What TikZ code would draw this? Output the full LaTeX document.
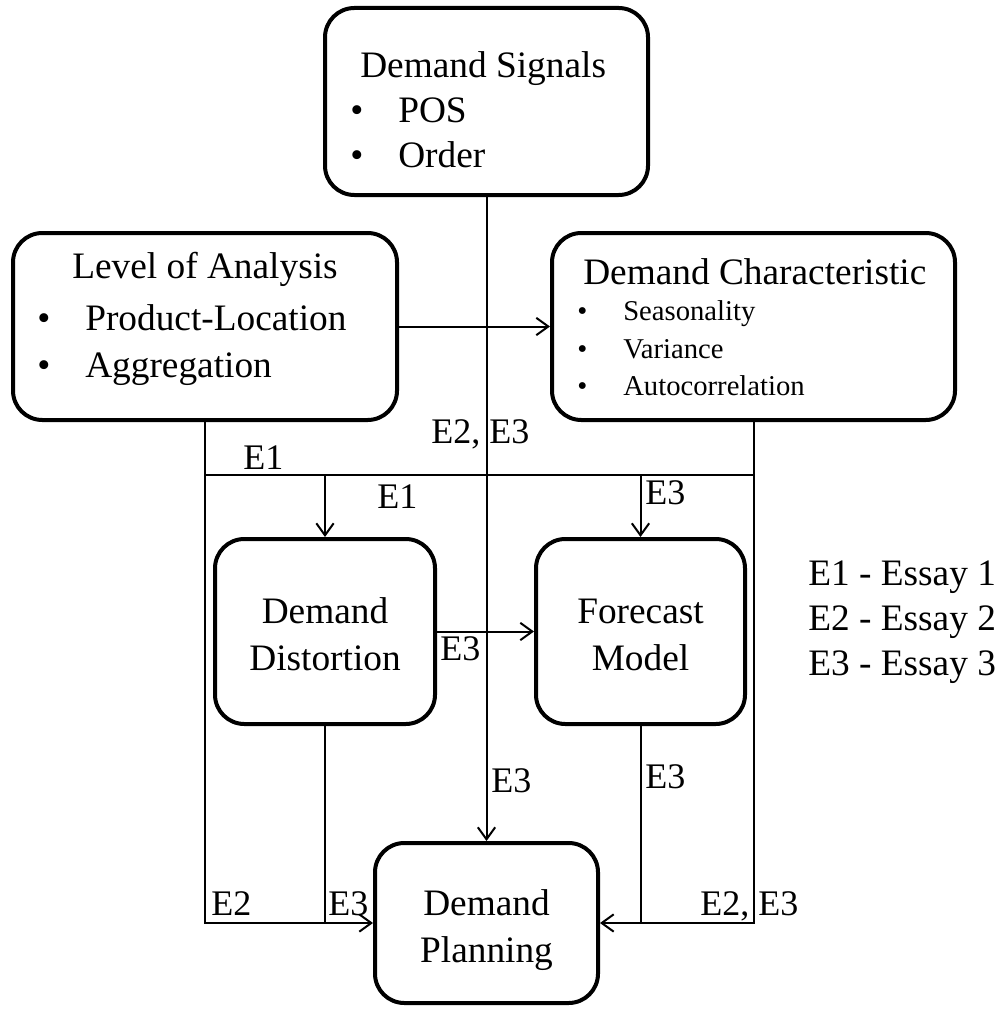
\documentclass[tikz,border=0pt]{standalone}
\usepackage{fontspec}
\setmainfont{Liberation Serif}
\usetikzlibrary{arrows.meta}
\begin{document}
\begin{tikzpicture}[x=0.75pt,y=-0.75pt,
  box/.style={draw, line width=3pt, rounded corners=22pt, inner sep=0pt},
  big/.style={font=\fontsize{28}{34}\selectfont, inner sep=0pt},
  small/.style={font=\fontsize{21.5}{26}\selectfont, inner sep=0pt},
  lab/.style={font=\fontsize{27}{32}\selectfont, inner sep=0pt, anchor=base west},
  conn/.style={line width=1.5pt},
  arr/.style={conn, -{Straight Barb[length=9pt,width=13pt]}}]
\useasboundingbox (0,0) rectangle (1002,1013);
% boxes
\node[box, minimum width=242.25pt, minimum height=140.25pt] (sig) at (486.5,101.5) {};
\node[box, minimum width=288pt, minimum height=140.25pt] (lev) at (205,326.5) {};
\node[box, minimum width=302.25pt, minimum height=140.25pt] (chr) at (753.5,326.5) {};
\node[box, minimum width=165pt, minimum height=138.75pt] (dis) at (325,631.5) {};
\node[box, minimum width=156.75pt, minimum height=138.75pt] (fmod) at (640.5,631.5) {};
\node[box, minimum width=167.25pt, minimum height=120pt] (plan) at (486.5,923) {};
% box texts
\node[big, anchor=base west] (sigT) at (360,78) {Demand Signals};
\node[big, anchor=base west] (sigB1) at (350,123) {•};
\node[big, anchor=base west] (sigI1) at (398,123) {POS};
\node[big, anchor=base west] (sigB2) at (350,167) {•};
\node[big, anchor=base west] (sigI2) at (398,167) {Order};
\node[big, anchor=base west] (levT) at (72,278) {Level of Analysis};
\node[big, anchor=base west] (levB1) at (37,330) {•};
\node[big, anchor=base west] (levI1) at (85,330) {Product-Location};
\node[big, anchor=base west] (levB2) at (37,377) {•};
\node[big, anchor=base west] (levI2) at (85,377) {Aggregation};
\node[big, anchor=base west] (chrT) at (583,284) {Demand Characteristic};
\node[small, anchor=base west] (chrB1) at (577,320.5) {•};
\node[small, anchor=base west] (chrI1) at (623,320.5) {Seasonality};
\node[small, anchor=base west] (chrB2) at (577,358.5) {•};
\node[small, anchor=base west] (chrI2) at (623,358.5) {Variance};
\node[small, anchor=base west] (chrB3) at (577,395) {•};
\node[small, anchor=base west] (chrI3) at (623,395) {Autocorrelation};
\node[big, anchor=base] (disT1) at (325,623) {Demand};
\node[big, anchor=base] (disT2) at (325,670) {Distortion};
\node[big, anchor=base] (fmT1) at (640.5,623) {Forecast};
\node[big, anchor=base] (fmT2) at (640.5,670) {Model};
\node[big, anchor=base] (plT1) at (486.5,915) {Demand};
\node[big, anchor=base] (plT2) at (486.5,962) {Planning};
% legend
\node[big, anchor=base west] (leg1) at (808,585) {E1 - Essay 1};
\node[big, anchor=base west] (leg2) at (808,630) {E2 - Essay 2};
\node[big, anchor=base west] (leg3) at (808,675) {E3 - Essay 3};
% junction coordinates
\coordinate (jl) at (lev.south |- 0,475);
\coordinate (jr) at (chr.south |- 0,475);
% connectors
\draw[arr] (sig.south) -- (plan.north);
\draw[arr] (lev.east) -- (chr.west);
\draw[conn] (jl) -- (jr);
\draw[arr] (lev.south) |- (plan.west);
\draw[arr] (chr.south) |- (plan.east);
\draw[arr] (dis.north |- jl) -- (dis.north);
\draw[arr] (fmod.north |- jl) -- (fmod.north);
\draw[arr] (dis.east) -- (fmod.west);
\draw[conn] (dis.south) -- (dis.south |- plan.west);
\draw[conn] (fmod.south) -- (fmod.south |- plan.east);
% connector labels
\node[lab] (l1) at (431,443) {E2, E3};
\node[lab] (l2) at (243,469) {E1};
\node[lab] (l3) at (377,508) {E1};
\node[lab] (l4) at (645,504) {E3};
\node[lab] (l5) at (440,660) {E3};
\node[lab] (l6) at (491,792) {E3};
\node[lab] (l7) at (645,788) {E3};
\node[lab] (l8) at (211,915) {E2};
\node[lab] (l9) at (328,915) {E3};
\node[lab] (l10) at (700,915) {E2, E3};
\end{tikzpicture}
\end{document}
